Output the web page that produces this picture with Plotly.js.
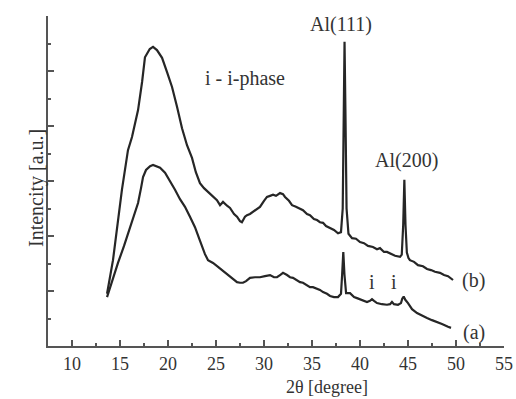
<!DOCTYPE html>
<html>
<head>
<meta charset="utf-8">
<script src="https://cdn.plot.ly/plotly-3.0.1.min.js"></script>
<style>html,body{margin:0;padding:0;background:#fff;}#chart{width:516px;height:399px;}</style>
</head>
<body>
<div id="chart"></div>
<script>
// Curve (b) - upper pattern
const bTheta = [13.65,14.27,15.2,15.83,16.25,16.88,17.3,17.6,18.1,18.44,18.85,19.38,19.9,20.42,20.94,21.46,21.98,22.5,22.9,23.33,23.75,24.17,24.58,25.1,25.42,25.73,26.15,26.46,26.88,27.19,27.5,27.7,28.02,28.23,28.54,28.85,29.27,29.58,30.0,30.31,30.63,30.94,31.25,31.67,31.98,32.19,32.6,32.92,33.33,33.75,34.06,34.48,34.79,35.2,35.52,35.83,36.15,36.46,36.88,37.29,37.71,38.02,38.2,38.3,38.39,38.48,38.6,38.8,39.17,39.58,40.0,40.42,40.83,41.35,41.77,42.08,42.5,42.81,43.23,43.65,44.17,44.35,44.5,44.62,44.74,44.88,45.05,45.2,45.63,46.04,46.56,46.98,47.4,47.81,48.33,48.75,49.17,49.69];
const bInt   = [0.95,1.56,2.84,3.56,3.8,4.29,4.8,5.25,5.4,5.44,5.38,5.24,4.98,4.71,4.35,3.96,3.65,3.42,3.16,2.96,2.87,2.8,2.73,2.65,2.56,2.62,2.55,2.51,2.4,2.35,2.27,2.25,2.35,2.38,2.4,2.44,2.49,2.53,2.64,2.71,2.73,2.75,2.73,2.78,2.76,2.71,2.64,2.56,2.53,2.49,2.47,2.4,2.38,2.31,2.29,2.25,2.24,2.18,2.15,2.11,2.05,2.07,2.5,4.3,5.53,4.3,2.5,2.04,1.96,1.95,1.89,1.87,1.82,1.8,1.76,1.78,1.71,1.71,1.67,1.64,1.62,1.66,2.2,3.02,2.2,1.7,1.6,1.56,1.53,1.47,1.45,1.4,1.38,1.35,1.33,1.29,1.27,1.2];
// Curve (a) - lower pattern
const aTheta = [13.65,14.17,14.79,15.42,16.04,16.46,16.88,17.19,17.4,17.71,18.13,18.44,18.75,19.17,19.69,20.21,20.73,21.25,21.77,22.29,22.81,23.23,23.54,23.85,24.17,24.69,25.21,25.63,25.94,26.46,26.88,27.19,27.5,27.81,28.13,28.54,29.06,29.58,30.1,30.63,31.04,31.35,31.67,31.98,32.4,32.71,33.02,33.44,33.75,34.06,34.48,34.79,35.1,35.52,35.83,36.15,36.56,36.88,37.29,37.71,38.02,38.14,38.26,38.38,38.55,38.96,39.38,39.69,40.21,40.73,41.04,41.25,41.46,41.77,42.29,42.81,43.13,43.33,43.54,43.96,44.27,44.4,44.55,44.72,45.0,45.42,45.94,46.46,46.98,47.5,48.02,48.54,49.17,49.48];
const aInt   = [0.89,1.18,1.51,1.82,2.16,2.38,2.6,2.87,3.07,3.2,3.27,3.29,3.27,3.24,3.15,3.0,2.84,2.67,2.53,2.35,2.16,1.96,1.8,1.67,1.56,1.51,1.44,1.38,1.33,1.25,1.2,1.16,1.15,1.15,1.18,1.24,1.25,1.25,1.27,1.29,1.25,1.25,1.29,1.33,1.29,1.25,1.24,1.2,1.16,1.15,1.11,1.07,1.07,1.04,1.02,0.98,0.95,0.91,0.89,0.89,0.95,1.3,1.71,1.3,0.96,0.96,0.89,0.87,0.84,0.8,0.82,0.85,0.82,0.78,0.76,0.75,0.76,0.8,0.76,0.75,0.78,0.86,0.9,0.84,0.78,0.67,0.6,0.55,0.51,0.47,0.44,0.4,0.35,0.33];

const labels = [
  {text:'Al(111)', x:38.07, y:5.84},
  {text:'Al(200)', x:44.8, y:3.38},
  {text:'i - i-phase', x:28.0, y:4.87},
  {text:'i', x:41.25, y:1.16},
  {text:'i', x:43.54, y:1.16},
  {text:'(b)', x:51.8, y:1.2},
  {text:'(a)', x:51.9, y:0.25}
];

const font = 'Liberation Serif, Times New Roman, serif';
const txtColor = '#333';
const lineStyle = {color:'#262626', width:2.2};

const traces = [
  {x:aTheta, y:aInt, mode:'lines', line:lineStyle, hoverinfo:'skip'},
  {x:bTheta, y:bInt, mode:'lines', line:lineStyle, hoverinfo:'skip'}
];

const annotations = labels.map(l => ({
  text:l.text, x:l.x, y:l.y, xref:'x', yref:'y', showarrow:false,
  font:{family:font, size:20, color:txtColor}
}));
annotations.push({text:'2θ [degree]', xref:'x', yref:'paper', x:36.6, y:-0.125,
  showarrow:false, yanchor:'middle', font:{family:font, size:18, color:txtColor}});
annotations.push({text:'Intencity [a.u.]', xref:'paper', yref:'paper', x:-0.055, y:0.48,
  textangle:-90, showarrow:false, font:{family:font, size:20, color:txtColor}});

const layout = {
  width:516, height:399,
  margin:{l:48, r:12, t:16, b:53},
  paper_bgcolor:'#fff', plot_bgcolor:'#fff',
  showlegend:false,
  xaxis:{range:[7.5,55], tickvals:[10,15,20,25,30,35,40,45,50,55],
    ticks:'inside', ticklen:6, tickwidth:2, tickcolor:'#555',
    showline:true, linecolor:'#555', linewidth:2, showgrid:false, zeroline:false,
    tickfont:{family:font, size:18, color:txtColor},
    minor:{tickvals:[12.5,17.5,22.5,27.5,32.5,37.5,42.5,47.5,52.5], ticks:'inside', ticklen:3, tickwidth:2, tickcolor:'#555', showgrid:false}},
  yaxis:{range:[0,6], tickvals:[1,2,3,4,5,6], ticks:'inside', ticklen:6, tickwidth:2, tickcolor:'#555',
    showticklabels:false, showline:true, linecolor:'#555', linewidth:2, showgrid:false, zeroline:false,
    minor:{tickvals:[0.5,1.5,2.5,3.5,4.5,5.5], ticks:'inside', ticklen:3, tickwidth:2, tickcolor:'#555', showgrid:false}},
  annotations:annotations
};

Plotly.newPlot('chart', traces, layout, {staticPlot:true, displayModeBar:false});
</script>
</body>
</html>
